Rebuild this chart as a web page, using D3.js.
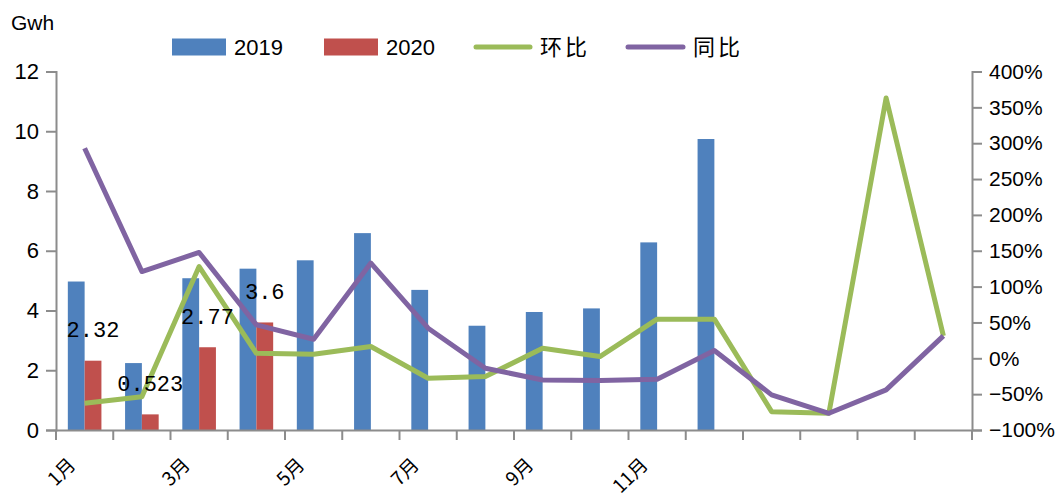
<!DOCTYPE html>
<html>
<head>
<meta charset="utf-8">
<script src="https://cdn.jsdelivr.net/npm/d3@7"></script>
<style>
  body { margin: 0; background: #fff; }
  svg { display: block; }
</style>
</head>
<body>
<div id="chart"></div>
<script>
// categories (last four have no label)
var months = ["1月", "2月", "3月", "4月", "5月", "6月", "7月", "8月", "9月", "10月", "11月", "12月", "", "", "", ""];
var s2019 = [4.97, 2.24, 5.08, 5.40, 5.68, 6.59, 4.69, 3.49, 3.95, 4.07, 6.28, 9.74];
var s2020 = [2.32, 0.523, 2.77, 3.6];
var huanbi = [-62.7, -53.5, 128, 7, 5.7, 16.4, -27.8, -25.5, 14, 2.4, 54.6, 54.6, -74.4, -76.7, 363, 31.3];
var tongbi = [293, 121, 147.6, 46.6, 26.6, 132.8, 42, -13.8, -30.2, -31, -29.2, 10.8, -51, -76.7, -44, 31.3];
var leftTicks = [0, 2, 4, 6, 8, 10, 12];
var rightTicks = [-100, -50, 0, 50, 100, 150, 200, 250, 300, 350, 400];

var width = 1061, height = 501;
var margin = { top: 71.5, right: 89, bottom: 71, left: 56 };
var colors = { y2019: "#4F81BD", y2020: "#C0504D", hb: "#9BBB59", tb: "#8064A2", axis: "#8c8c8c" };
var numFont = "'Liberation Sans', Arial, sans-serif";
var cjkFont = "'Noto Sans CJK SC', sans-serif";

var svg = d3.select("#chart").append("svg")
  .attr("width", width)
  .attr("height", height);

var x = d3.scaleBand()
  .domain(d3.range(months.length))
  .range([margin.left, width - margin.right]);

var y = d3.scaleLinear().domain([0, 12]).range([height - margin.bottom, margin.top]);
var y2 = d3.scaleLinear().domain([-100, 400]).range([height - margin.bottom, margin.top]);

var barW = 16.8;
var cx = (i) => x(i) + x.bandwidth() / 2;

// bars
svg.append("g").selectAll("rect")
  .data(s2019)
  .join("rect")
  .attr("x", (d, i) => cx(i) - barW)
  .attr("y", (d) => y(d))
  .attr("width", barW)
  .attr("height", (d) => y(0) - y(d))
  .attr("fill", colors.y2019);

svg.append("g").selectAll("rect")
  .data(s2020)
  .join("rect")
  .attr("x", (d, i) => cx(i))
  .attr("y", (d) => y(d))
  .attr("width", barW)
  .attr("height", (d) => y(0) - y(d))
  .attr("fill", colors.y2020);

// axes
var axisLeft = d3.axisLeft(y).tickValues(leftTicks).tickSize(10).tickPadding(7);
var axisRight = d3.axisRight(y2).tickValues(rightTicks).tickSize(10).tickPadding(7)
  .tickFormat((d) => (d < 0 ? "\u2212" + Math.abs(d) : d) + "%");
var axisBottom = d3.axisBottom(x).tickSize(0).tickFormat("");

var gL = svg.append("g").attr("transform", `translate(${margin.left},0)`).call(axisLeft);
var gR = svg.append("g").attr("transform", `translate(${width - margin.right},0)`).call(axisRight);
var gB = svg.append("g").attr("transform", `translate(0,${y(0)})`).call(axisBottom);

[gL, gR, gB].forEach((g) => {
  g.select(".domain").attr("stroke", colors.axis).attr("stroke-width", 2);
  g.selectAll(".tick line").attr("stroke", colors.axis).attr("stroke-width", 2);
  g.selectAll("text").attr("fill", "#000").style("font-family", numFont);
});
gL.selectAll("text").style("font-size", "22px");
gR.selectAll("text").style("font-size", "21px");

// category boundary ticks on x axis
var bounds = d3.range(months.length + 1).map((i) => margin.left + i * x.bandwidth());
svg.append("g").selectAll("line")
  .data(bounds)
  .join("line")
  .attr("x1", (d) => d)
  .attr("x2", (d) => d)
  .attr("y1", y(0))
  .attr("y2", y(0) + 10)
  .attr("stroke", colors.axis)
  .attr("stroke-width", 2);

// rotated month labels, every other one
svg.append("g").selectAll("text")
  .data(months.filter((d, i) => i % 2 == 0 && d != ""))
  .join("text")
  .attr("transform", (d) => {
    var i = months.indexOf(d);
    return `translate(${cx(i) - 8},${y(0) + 36}) rotate(-45)`;
  })
  .attr("text-anchor", "end")
  .style("font-family", cjkFont)
  .style("font-size", "19px")
  .text((d) => d);

// lines
var line = (vals) => d3.line()
  .x((d, i) => cx(i))
  .y((d) => y2(d))(vals);

svg.append("path")
  .attr("d", line(huanbi))
  .attr("fill", "none")
  .attr("stroke", colors.hb)
  .attr("stroke-width", 5)
  .attr("stroke-linejoin", "round");

svg.append("path")
  .attr("d", line(tongbi))
  .attr("fill", "none")
  .attr("stroke", colors.tb)
  .attr("stroke-width", 5)
  .attr("stroke-linejoin", "round");

// data labels for 2020
svg.append("g").selectAll("text")
  .data(s2020)
  .join("text")
  .attr("x", (d, i) => cx(i) + barW / 2)
  .attr("y", (d) => y(d) - 31)
  .attr("dy", "0.35em")
  .attr("text-anchor", "middle")
  .style("font-family", "'Liberation Mono', 'DejaVu Sans Mono', monospace")
  .style("font-size", "22px")
  .text((d) => d);

// unit
svg.append("text")
  .attr("x", 11)
  .attr("y", 30)
  .style("font-family", numFont)
  .style("font-size", "21px")
  .text("Gwh");

// legend
var legend = svg.append("g").attr("transform", "translate(0,47)");
legend.append("rect").attr("x", 172).attr("y", -8.5).attr("width", 54).attr("height", 17).attr("fill", colors.y2019);
legend.append("text").attr("x", 234).attr("dy", "0.36em").style("font-family", numFont).style("font-size", "22px").text("2019");
legend.append("rect").attr("x", 324).attr("y", -8.5).attr("width", 54).attr("height", 17).attr("fill", colors.y2020);
legend.append("text").attr("x", 386).attr("dy", "0.36em").style("font-family", numFont).style("font-size", "22px").text("2020");
legend.append("line").attr("x1", 476).attr("x2", 530).attr("stroke", colors.hb).attr("stroke-width", 5).attr("stroke-linecap", "round");
legend.append("text").attr("x", 540).attr("dy", "0.36em").style("font-family", cjkFont).style("font-size", "22px").style("letter-spacing", "3px").text("环比");
legend.append("line").attr("x1", 628).attr("x2", 683).attr("stroke", colors.tb).attr("stroke-width", 5).attr("stroke-linecap", "round");
legend.append("text").attr("x", 693).attr("dy", "0.36em").style("font-family", cjkFont).style("font-size", "22px").style("letter-spacing", "3px").text("同比");
</script>
</body>
</html>
